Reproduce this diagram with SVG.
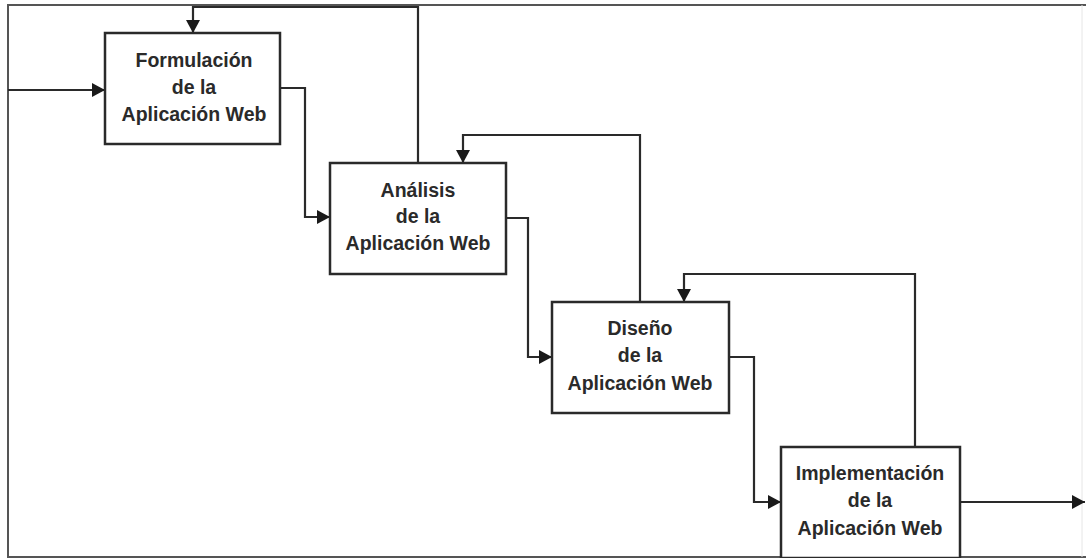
<svg xmlns="http://www.w3.org/2000/svg" width="1086" height="558" viewBox="0 0 1086 558">
  <defs>
    <marker id="arr" markerUnits="userSpaceOnUse" markerWidth="14" markerHeight="14" refX="13" refY="7" orient="auto">
      <path d="M0,0 L13,7 L0,14 Z" fill="#1a1a1a"/>
    </marker>
    <style>
      .box { fill: #ffffff; stroke: #2a2a2a; stroke-width: 2.5; }
      .lbl { font-family: "Liberation Sans", Arial, sans-serif; font-weight: bold; font-size: 19.5px; fill: #2a2a2a; text-anchor: middle; }
      .con { fill: none; stroke: #2a2a2a; stroke-width: 2.2; }
      .frame { fill: none; stroke: #555555; stroke-width: 2; }
    </style>
  </defs>
  <rect width="1086" height="558" fill="#ffffff"/>
  <g id="frame">
    <path class="frame" d="M1086,5 H8 V557 H1086"/>
    <line x1="1082" y1="5" x2="1082" y2="557" stroke="#e6e6e6" stroke-width="1"/>
  </g>
  <g id="connectors">
    <path class="con" d="M8,90 H105" marker-end="url(#arr)"/>
    <path class="con" d="M280,88 H305 V217 H330" marker-end="url(#arr)"/>
    <path class="con" d="M418,163 V7 H193 V33" marker-end="url(#arr)"/>
    <path class="con" d="M506,218 H528 V357 H552" marker-end="url(#arr)"/>
    <path class="con" d="M640,302 V135 H463 V163" marker-end="url(#arr)"/>
    <path class="con" d="M729,357 H754 V502 H781" marker-end="url(#arr)"/>
    <path class="con" d="M915,447 V274 H684 V302" marker-end="url(#arr)"/>
    <path class="con" d="M960,502 H1085" marker-end="url(#arr)"/>
  </g>
  <g id="formulacion">
    <rect class="box" x="105" y="33" width="175" height="111"/>
    <text class="lbl" x="194" y="67">Formulación</text>
    <text class="lbl" x="194" y="94">de la</text>
    <text class="lbl" x="194" y="121">Aplicación Web</text>
  </g>
  <g id="analisis">
    <rect class="box" x="330" y="163" width="176" height="111"/>
    <text class="lbl" x="418" y="197">Análisis</text>
    <text class="lbl" x="418" y="223">de la</text>
    <text class="lbl" x="418" y="250">Aplicación Web</text>
  </g>
  <g id="diseno">
    <rect class="box" x="552" y="302" width="177" height="111"/>
    <text class="lbl" x="640" y="335">Diseño</text>
    <text class="lbl" x="640" y="362">de la</text>
    <text class="lbl" x="640" y="390">Aplicación Web</text>
  </g>
  <g id="implementacion">
    <rect class="box" x="781" y="447" width="179" height="111"/>
    <text class="lbl" x="870" y="480">Implementación</text>
    <text class="lbl" x="870" y="507">de la</text>
    <text class="lbl" x="870" y="535">Aplicación Web</text>
  </g>
</svg>
